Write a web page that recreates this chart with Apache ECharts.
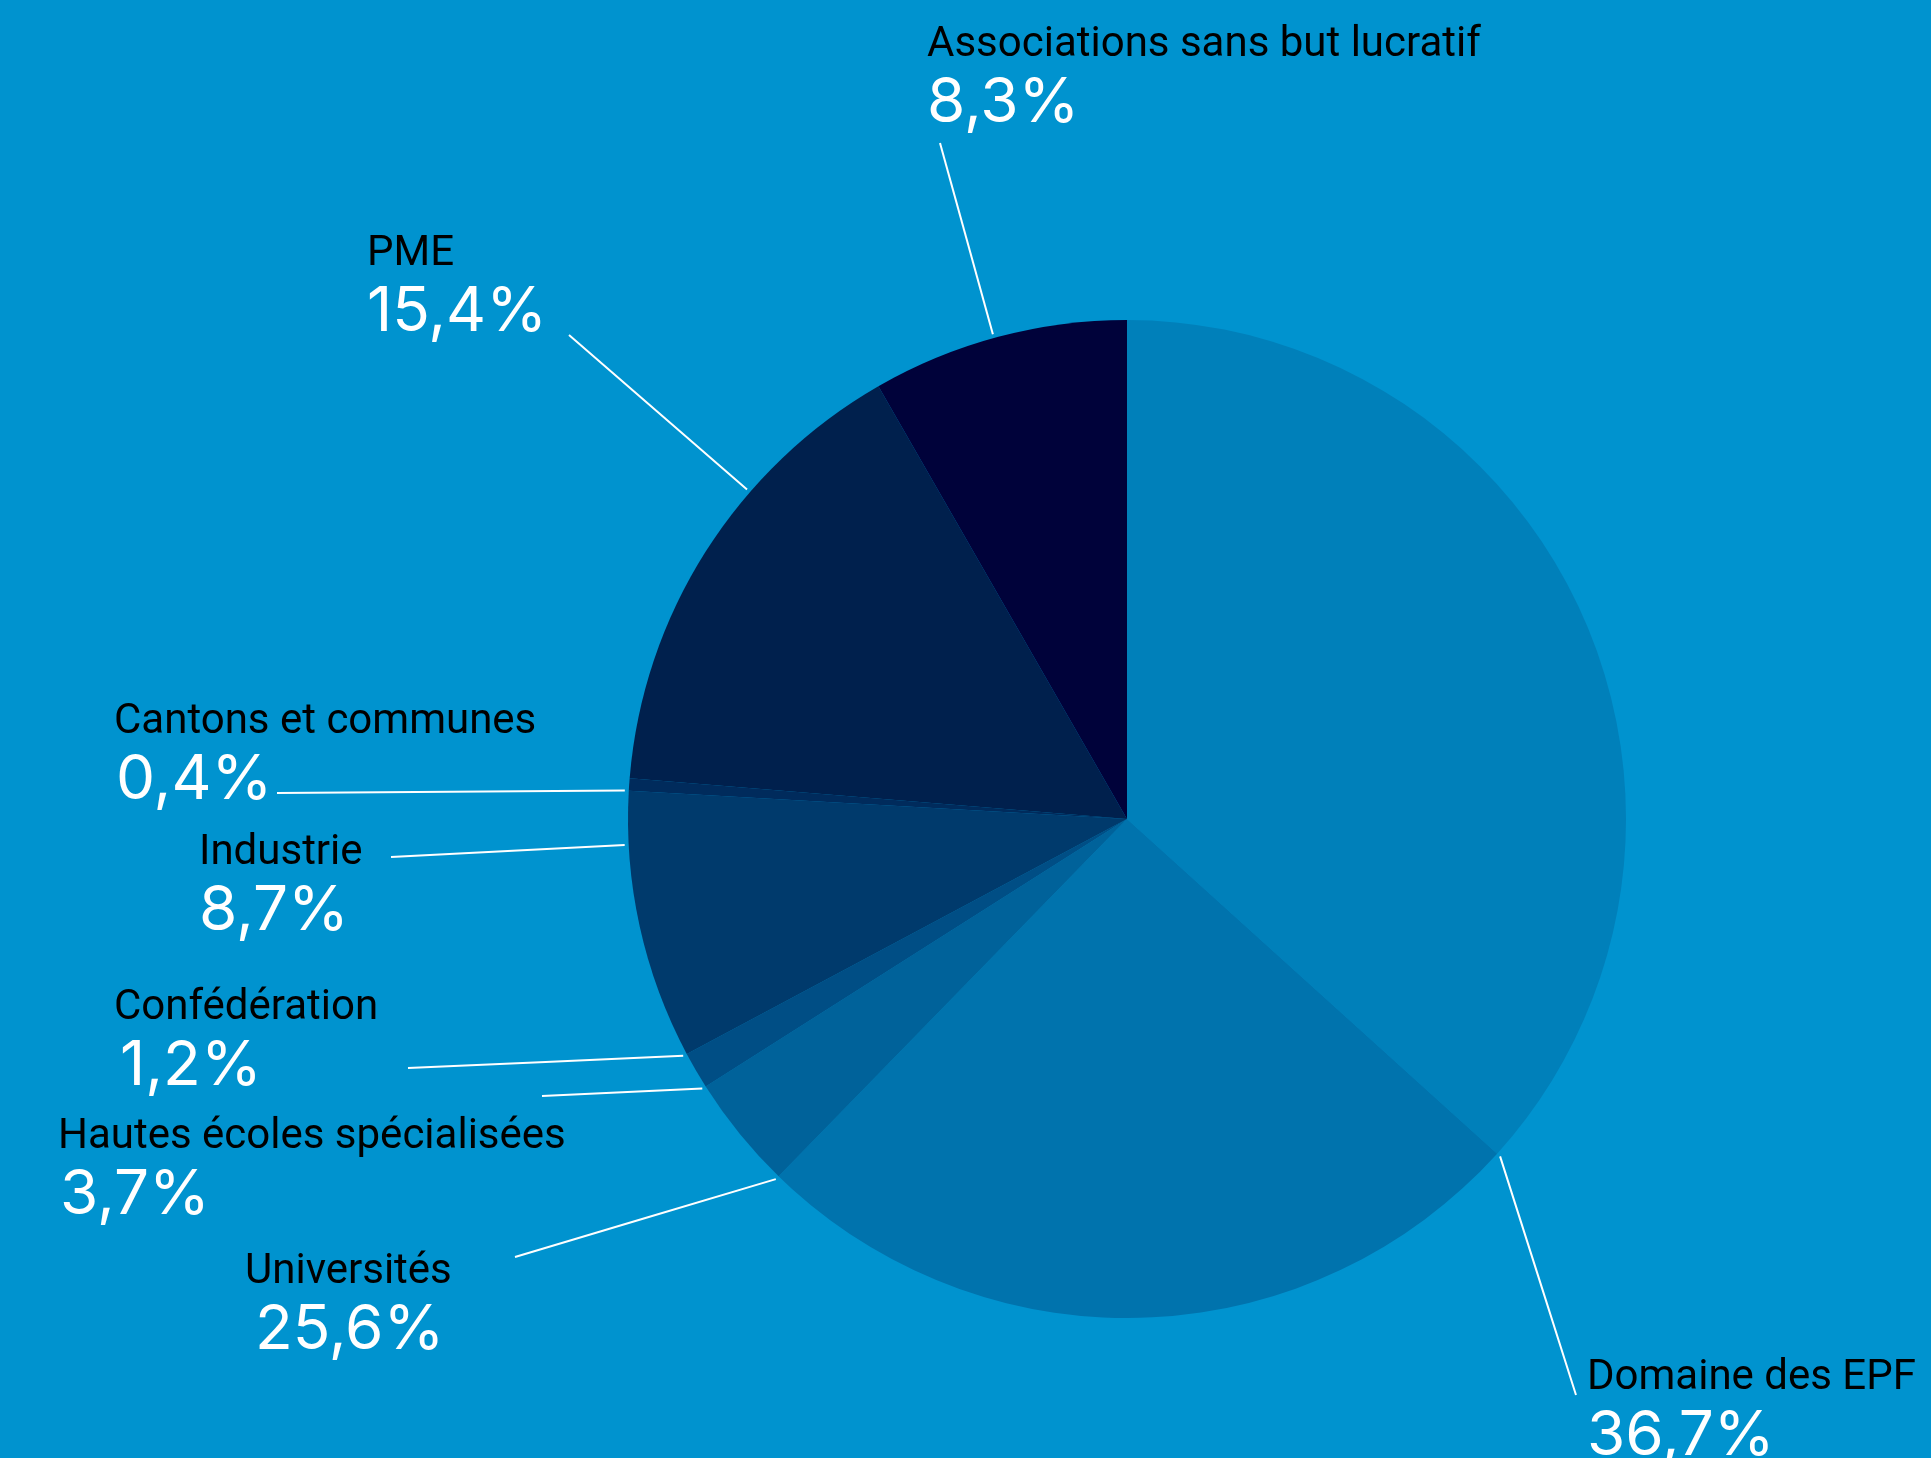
<!DOCTYPE html>
<html>
<head>
<meta charset="utf-8">
<script src="https://cdn.jsdelivr.net/npm/echarts@6.0.0/dist/echarts.min.js"></script>
<style>
  html, body { margin: 0; padding: 0; background: #0093CF; }
  #chart { width: 1931px; height: 1458px; }
</style>
</head>
<body>
<div id="chart"></div>
<script>
// Sources de financement, en % du total (ordre horaire depuis midi)
const categories = [
  'Domaine des EPF',
  'Universités',
  'Hautes écoles spécialisées',
  'Confédération',
  'Industrie',
  'Cantons et communes',
  'PME',
  'Associations sans but lucratif'
];
const shares = [36.7, 25.6, 3.7, 1.2, 8.7, 0.4, 15.4, 8.3];
const sliceColors = ['#0080BA', '#0073AD', '#00629A', '#004E85', '#003A6C', '#002B5C', '#00204D', '#00023A'];

// Pie geometry (px)
const PIE_CENTER = [1127, 819];
const PIE_RADIUS = 499;

// Top-left corner of each label block
const labelBoxes = [
  [1587, 1353],
  [245, 1247],
  [58, 1112],
  [114, 983],
  [199, 828],
  [114, 697],
  [367, 229],
  [927, 20]
];
// Where each leader line meets its label, relative to the block corner
const leaderOffsets = [
  [-11, 42],
  [270, 10],
  [484, -16],
  [294, 85],
  [192, 29],
  [163, 96],
  [202, 106],
  [13, 123]
];
// Extra left indent of the percentage line
const valueIndent = [0, 10, 2, 6, 0, 2, 0, 0];

const total = shares.reduce((a, b) => a + b, 0);

// Angular span of a slice, in degrees clockwise from 12 o'clock
function sliceRange(i) {
  let acc = 0;
  for (let j = 0; j < i; j++) acc += shares[j];
  return [acc / total * 360, (acc + shares[i]) / total * 360];
}

function arcPoint(deg, r) {
  const t = deg * Math.PI / 180;
  return [PIE_CENTER[0] + r * Math.sin(t), PIE_CENTER[1] - r * Math.cos(t)];
}

function angDiff(a, b) {
  let d = Math.abs(a - b) % 360;
  return d > 180 ? 360 - d : d;
}

// Leader starts on the slice rim, as close as possible to the label direction
function leaderStart(i, end) {
  const [a0, a1] = sliceRange(i);
  let theta = Math.atan2(end[0] - PIE_CENTER[0], -(end[1] - PIE_CENTER[1])) * 180 / Math.PI;
  if (theta < 0) theta += 360;
  let a;
  if (theta >= a0 && theta <= a1) a = theta;
  else a = angDiff(theta, a0) < angDiff(theta, a1) ? a0 : a1;
  return arcPoint(a, PIE_RADIUS + 4);
}

function fmt(v) {
  return v.toFixed(1).replace('.', ',') + '%';
}

const nameStyle = { fontFamily: 'Roboto', fontSize: 42, lineHeight: 50, color: '#000000', align: 'left' };
const valueStyle = { fontFamily: 'Inter', fontWeight: 400, fontSize: 62, lineHeight: 66, color: '#FFFFFF', align: 'left' };

const chart = echarts.init(document.getElementById('chart'), null, { renderer: 'canvas' });

chart.setOption({
  backgroundColor: '#0093CF',
  animation: false,
  series: [{
    type: 'pie',
    center: PIE_CENTER,
    radius: PIE_RADIUS,
    startAngle: 90,
    clockwise: true,
    avoidLabelOverlap: false,
    emphasis: { disabled: true },
    itemStyle: { borderWidth: 0 },
    data: categories.map((name, i) => ({
      name: name,
      value: shares[i],
      itemStyle: { color: sliceColors[i] },
      label: {
        rich: {
          n: nameStyle,
          v: Object.assign({}, valueStyle, { padding: [0, 0, 0, valueIndent[i]] })
        }
      }
    })),
    label: {
      show: true,
      position: 'outside',
      overflow: 'none',
      formatter: p => '{n|' + p.name + '}\n{v|' + fmt(p.value) + '}',
      rich: { n: nameStyle, v: valueStyle }
    },
    labelLine: {
      show: true,
      length: 10,
      length2: 0,
      lineStyle: { color: '#FFFFFF', width: 2 }
    },
    labelLayout: function (p) {
      const i = p.dataIndex;
      const x = labelBoxes[i][0];
      const y = labelBoxes[i][1];
      const end = [x + leaderOffsets[i][0], y + leaderOffsets[i][1]];
      const start = leaderStart(i, end);
      const mid = [(start[0] + end[0]) / 2, (start[1] + end[1]) / 2];
      return {
        x: x,
        y: y,
        align: 'left',
        verticalAlign: 'top',
        labelLinePoints: [start, mid, end]
      };
    }
  }]
});
</script>
</body>
</html>
